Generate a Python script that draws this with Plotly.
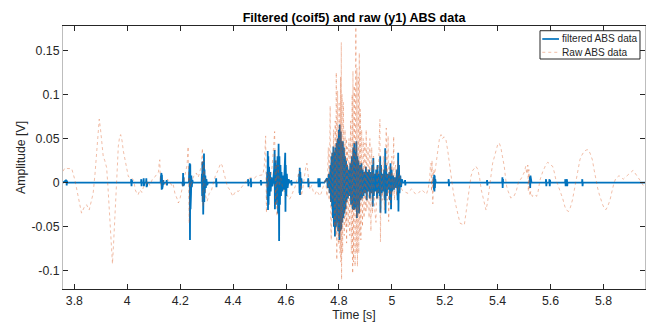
import plotly.graph_objects as go

# ---------------- data ----------------
raw_time = [
    3.757, 3.765, 3.775, 3.790, 3.802, 3.815, 3.827, 3.837, 3.846, 3.856, 3.863, 3.871, 3.878, 3.884,
    3.890, 3.894, 3.899, 3.905, 3.909, 3.915, 3.922, 3.927, 3.932, 3.938, 3.944, 3.948, 3.952, 3.957,
    3.962, 3.966, 3.971, 3.975, 3.980, 3.985, 3.991, 3.997, 4.004, 4.010, 4.018, 4.025, 4.030, 4.036,
    4.041, 4.048, 4.055, 4.062, 4.070, 4.078, 4.085, 4.095, 4.103, 4.110, 4.118, 4.121, 4.123, 4.125,
    4.128, 4.132, 4.138, 4.145, 4.152, 4.160, 4.168, 4.173, 4.180, 4.188, 4.193, 4.198, 4.205, 4.212,
    4.220, 4.226, 4.230, 4.232, 4.234, 4.236, 4.240, 4.246, 4.252, 4.261, 4.268, 4.274, 4.280, 4.284,
    4.286, 4.289, 4.292, 4.296, 4.302, 4.310, 4.318, 4.326, 4.333, 4.340, 4.347, 4.353, 4.358, 4.364,
    4.370, 4.378, 4.387, 4.394, 4.399, 4.405, 4.412, 4.420, 4.428, 4.436, 4.445, 4.455, 4.462, 4.470,
    4.480, 4.487, 4.495, 4.505, 4.513, 4.518, 4.521, 4.523, 4.525, 4.526, 4.529, 4.532, 4.536, 4.542,
    4.548, 4.553, 4.557, 4.559, 4.560, 4.563, 4.566, 4.570, 4.575, 4.580, 4.587, 4.594, 4.601, 4.607,
    4.613, 4.620, 4.627, 4.635, 4.642, 4.648, 4.651, 4.655, 4.658, 4.664, 4.670, 4.675, 4.679, 4.684,
    4.690, 4.697, 4.703, 4.710, 4.716, 4.722, 4.728, 4.733, 4.738, 4.744, 4.750, 4.755, 4.760, 4.763,
    4.767, 4.769, 4.771, 4.774, 4.777, 4.780, 4.783, 4.786, 4.788, 4.790, 4.792, 4.795, 4.798, 4.801,
    4.804, 4.806, 4.807, 4.809, 4.810, 4.812, 4.814, 4.817, 4.820, 4.823, 4.826, 4.828, 4.829, 4.832,
    4.835, 4.838, 4.841, 4.844, 4.847, 4.850, 4.852, 4.853, 4.855, 4.858, 4.861, 4.864, 4.866, 4.868,
    4.870, 4.873, 4.875, 4.877, 4.879, 4.881, 4.883, 4.886, 4.889, 4.892, 4.895, 4.898, 4.902, 4.903,
    4.906, 4.910, 4.914, 4.917, 4.921, 4.924, 4.927, 4.931, 4.935, 4.940, 4.944, 4.948, 4.952, 4.955,
    4.957, 4.960, 4.964, 4.968, 4.972, 4.976, 4.979, 4.982, 4.986, 4.988, 4.992, 4.996, 5.000, 5.004,
    5.007, 5.010, 5.014, 5.018, 5.022, 5.026, 5.030, 5.035, 5.038, 5.045, 5.055, 5.061, 5.068, 5.075,
    5.082, 5.090, 5.100, 5.112, 5.120, 5.131, 5.138, 5.143, 5.146, 5.148, 5.150, 5.152, 5.155, 5.158,
    5.162, 5.166, 5.173, 5.180, 5.186, 5.192, 5.197, 5.201, 5.205, 5.212, 5.218, 5.224, 5.233, 5.243,
    5.250, 5.258, 5.266, 5.274, 5.280, 5.287, 5.293, 5.299, 5.306, 5.312, 5.318, 5.325, 5.332, 5.338,
    5.343, 5.350, 5.356, 5.362, 5.369, 5.375, 5.381, 5.388, 5.394, 5.400, 5.406, 5.412, 5.418, 5.425,
    5.430, 5.434, 5.440, 5.445, 5.450, 5.456, 5.462, 5.470, 5.476, 5.481, 5.488, 5.495, 5.501, 5.506,
    5.510, 5.514, 5.516, 5.518, 5.520, 5.522, 5.525, 5.531, 5.537, 5.541, 5.547, 5.553, 5.560, 5.566,
    5.571, 5.577, 5.583, 5.589, 5.595, 5.601, 5.608, 5.614, 5.620, 5.627, 5.633, 5.639, 5.646, 5.654,
    5.660, 5.668, 5.675, 5.683, 5.689, 5.695, 5.700, 5.706, 5.711, 5.716, 5.722, 5.727, 5.735, 5.742,
    5.750, 5.758, 5.765, 5.771, 5.778, 5.784, 5.790, 5.797, 5.803, 5.809, 5.816, 5.825, 5.832, 5.840,
    5.847, 5.853, 5.859, 5.866, 5.875, 5.882, 5.889, 5.897, 5.905, 5.912, 5.919, 5.927, 5.934, 5.941,
    5.948, 5.953, 5.957,
]
raw_amp = [
    0.013, 0.017, 0.016, 0.016, 0.003, -0.018, -0.0345, -0.028, -0.025, -0.031, -0.022, -0.012, 0.010, 0.034,
    0.060, 0.072, 0.060, 0.040, 0.030, 0.025, 0.017, -0.005, -0.031, -0.060, -0.092, -0.070, -0.040, -0.012,
    0.015, 0.041, 0.052, 0.0545, 0.048, 0.036, 0.026, 0.015, 0.007, 0.006, 0.005, 0.002, -0.008, -0.012,
    -0.0136, -0.008, -0.011, -0.004, -0.002, 0.002, -0.003, 0.004, 0.006, 0.009, 0.012, 0.024, 0.026, 0.000,
    -0.003, -0.001, 0.003, -0.002, 0.004, 0.001, -0.003, -0.001, -0.012, -0.018, -0.023, -0.020, -0.010, 0.000,
    0.012, 0.020, 0.041, -0.010, -0.046, 0.005, -0.005, 0.003, 0.008, 0.011, 0.006, 0.012, 0.020, 0.039,
    -0.027, 0.025, 0.005, -0.015, -0.021, -0.012, -0.009, 0.000, 0.008, 0.012, 0.018, 0.022, 0.020, 0.012,
    0.005, -0.004, -0.008, -0.013, -0.0156, -0.012, -0.009, -0.010, -0.007, -0.004, 0.000, 0.004, 0.005, 0.006,
    0.005, 0.007, 0.008, 0.009, 0.009, 0.020, 0.040, 0.053, -0.010, -0.034, 0.010, -0.005, 0.012, 0.004,
    0.020, 0.040, 0.058, 0.010, -0.027, 0.025, -0.038, 0.020, -0.004, 0.005, -0.005, -0.010, -0.012, -0.016,
    -0.019, -0.015, -0.010, -0.004, 0.004, 0.010, 0.015, -0.005, -0.015, -0.005, 0.010, 0.018, 0.022, 0.010,
    -0.008, -0.003, -0.010, -0.013, -0.009, -0.012, -0.015, -0.012, -0.006, -0.002, 0.005, -0.0155, 0.040, -0.020,
    0.087, -0.040, -0.065, 0.035, -0.020, 0.060, -0.050, 0.070, -0.060, 0.125, -0.0875, 0.104, -0.070, 0.090,
    -0.080, 0.120, -0.090, 0.159, -0.110, 0.100, -0.080, 0.091, -0.060, 0.060, -0.050, 0.050, -0.0685, 0.040,
    -0.050, 0.050, -0.060, 0.070, -0.080, 0.100, -0.103, 0.1265, -0.090, 0.110, -0.095, 0.180, -0.080, 0.130,
    -0.095, 0.120, -0.080, 0.147, -0.060, 0.083, -0.065, 0.060, -0.050, 0.050, -0.040, 0.045, -0.034, 0.060,
    -0.030, 0.040, -0.040, 0.050, -0.055, 0.040, -0.035, 0.030, -0.030, -0.045, 0.020, -0.020, 0.045, 0.0716,
    -0.067, 0.020, -0.020, 0.030, -0.031, 0.040, 0.062, -0.020, 0.053, -0.044, 0.020, -0.025, 0.030, -0.015,
    0.0526, -0.020, 0.020, -0.015, 0.025, -0.010, 0.010, -0.005, -0.008, -0.010, -0.011, -0.012, -0.009, -0.007,
    -0.010, -0.013, -0.012, -0.008, -0.010, -0.013, -0.006, 0.005, 0.020, 0.022, -0.010, 0.025, -0.024, 0.015,
    0.010, 0.020, 0.034, 0.050, 0.0545, 0.050, 0.052, 0.050, 0.048, 0.035, 0.020, 0.0034, -0.012, -0.027,
    -0.038, -0.046, -0.047, -0.048, -0.035, -0.019, -0.005, 0.007, 0.014, 0.017, 0.0185, 0.015, 0.005, -0.008,
    -0.0155, -0.026, -0.031, -0.022, -0.008, 0.008, 0.022, 0.030, 0.0375, 0.043, 0.045, 0.040, 0.030, 0.0185,
    0.005, -0.004, -0.010, -0.015, -0.0175, -0.016, -0.015, -0.010, -0.003, 0.0034, 0.004, 0.008, 0.012, 0.0185,
    0.010, 0.020, -0.010, 0.015, -0.008, -0.015, -0.010, -0.0155, -0.014, -0.0136, -0.0155, -0.010, 0.003, 0.010,
    0.013, 0.0167, 0.021, 0.023, 0.022, 0.020, 0.0185, 0.012, 0.0034, -0.002, -0.007, -0.0117, -0.018, -0.027,
    -0.031, -0.0326, -0.028, -0.0193, -0.010, 0.000, 0.010, 0.020, 0.026, 0.030, 0.034, 0.0356, 0.037, 0.0375,
    0.033, 0.026, 0.014, 0.0034, -0.006, -0.013, -0.0193, -0.025, -0.029, -0.0307, -0.027, -0.0193, -0.010, 0.000,
    0.005, 0.007, 0.008, 0.006, 0.004, 0.006, 0.008, 0.010, 0.012, 0.014, 0.011, 0.008, 0.004, 0.0015,
    -0.002, -0.005, -0.006,
]

filt_time = [
    3.757, 3.770, 3.771, 3.772, 3.773, 4.014, 4.015, 4.016, 4.017, 4.018, 4.019,
    4.052, 4.053, 4.054, 4.055, 4.061, 4.062, 4.063, 4.064, 4.071, 4.072, 4.073, 4.074, 4.075, 4.076,
    4.126, 4.127, 4.128, 4.129, 4.130, 4.131, 4.132, 4.133, 4.134, 4.136, 4.137, 4.139,
    4.148, 4.149, 4.150, 4.151,
    4.208, 4.209, 4.210, 4.211, 4.212, 4.213, 4.214, 4.216,
    4.233, 4.234, 4.235, 4.236, 4.237, 4.238, 4.239, 4.240, 4.241, 4.242, 4.244, 4.246, 4.248,
    4.281, 4.282, 4.283, 4.284, 4.285, 4.286, 4.287, 4.288, 4.289, 4.290, 4.291, 4.292, 4.293,
    4.295, 4.297, 4.299, 4.302, 4.305,
    4.335, 4.336, 4.337, 4.338, 4.456, 4.457, 4.458, 4.459, 4.466, 4.467, 4.468, 4.469,
    4.504, 4.505, 4.506, 4.507,
    4.528, 4.529, 4.530, 4.531, 4.532, 4.533, 4.534, 4.536, 4.538, 4.540, 4.542, 4.545, 4.548, 4.551,
    4.555, 4.556, 4.557, 4.558, 4.560, 4.562, 4.564, 4.566, 4.568, 4.570, 4.572, 4.574, 4.575, 4.577,
    4.579, 4.581, 4.583, 4.586, 4.589, 4.592, 4.595, 4.597, 4.598, 4.599, 4.601, 4.603, 4.606, 4.610, 4.614,
    4.619, 4.620, 4.621, 4.622,
    4.649, 4.650, 4.651, 4.652, 4.653, 4.654, 4.656, 4.658, 4.660,
    4.683, 4.684, 4.685, 4.686, 4.721, 4.722, 4.723, 4.724, 4.726, 4.727, 4.728, 4.729,
    4.745, 4.755, 4.758, 4.762, 4.765, 4.768, 4.770, 4.772, 4.774, 4.775, 4.777, 4.779, 4.781, 4.783,
    4.785, 4.787, 4.789, 4.791, 4.793, 4.795, 4.797, 4.800, 4.802, 4.803, 4.805, 4.807, 4.809, 4.811,
    4.813, 4.815, 4.817, 4.819, 4.821, 4.823, 4.825, 4.827, 4.829, 4.831, 4.834, 4.837, 4.840, 4.843,
    4.846, 4.849, 4.852, 4.854, 4.856, 4.858, 4.860, 4.862, 4.864, 4.866, 4.868, 4.870, 4.872, 4.874,
    4.876, 4.879, 4.882, 4.885, 4.887, 4.890, 4.893, 4.896, 4.899, 4.902, 4.905, 4.908, 4.911, 4.914,
    4.917, 4.920, 4.923, 4.926, 4.928, 4.930, 4.932, 4.935, 4.938, 4.941, 4.944, 4.946, 4.948, 4.951,
    4.954, 4.956, 4.957, 4.959, 4.962, 4.965, 4.968, 4.971, 4.973, 4.975, 4.976, 4.978, 4.981, 4.984,
    4.987, 4.991, 4.993, 4.995, 4.997, 4.999, 5.002, 5.005, 5.008, 5.012, 5.016, 5.020, 5.022, 5.024,
    5.025, 5.027, 5.029, 5.032, 5.035, 5.038, 5.042,
    5.049, 5.050, 5.051, 5.052,
    5.157, 5.158, 5.159, 5.160, 5.161, 5.162, 5.163, 5.164, 5.166,
    5.214, 5.215, 5.216, 5.217, 5.359, 5.360, 5.361, 5.362,
    5.417, 5.418, 5.419, 5.420, 5.421,
    5.521, 5.522, 5.523, 5.524, 5.525, 5.526, 5.528,
    5.582, 5.583, 5.584, 5.585, 5.595, 5.596, 5.597, 5.598, 5.599,
    5.655, 5.656, 5.657, 5.658, 5.661, 5.662, 5.663, 5.664,
    5.719, 5.720, 5.721, 5.722, 5.957,
]
filt_amp = [
    0.0, 0.003, -0.003, 0.002, 0.0, 0.0, 0.004, -0.004, 0.003, -0.003, 0.0,
    0.0, 0.004, -0.004, 0.0, 0.0, 0.005, -0.004, 0.0, 0.0, 0.005, -0.005, 0.003, -0.003, 0.0,
    0.0, 0.006, -0.005, 0.011, -0.008, 0.009, -0.007, 0.005, -0.004, 0.003, -0.002, 0.0,
    0.0, 0.003, -0.003, 0.0,
    0.0, 0.008, -0.004, 0.011, -0.004, 0.006, -0.003, 0.0,
    0.0, 0.012, -0.020, 0.022, -0.065, 0.021, -0.030, 0.015, -0.012, 0.008, -0.005, 0.003, 0.0,
    0.0, 0.010, -0.015, 0.024, -0.022, 0.020, -0.036, 0.024, -0.020, 0.033, -0.022, 0.015, -0.012,
    0.008, -0.006, 0.004, -0.003, 0.0,
    0.0, 0.005, -0.005, 0.0, 0.0, 0.004, -0.004, 0.0, 0.0, 0.005, -0.005, 0.0,
    0.0, 0.003, -0.003, 0.0,
    0.0, 0.012, -0.020, 0.036, -0.031, 0.030, -0.025, 0.018, -0.015, 0.012, -0.010, 0.006, -0.004, 0.0,
    0.015, -0.020, 0.037, -0.030, 0.025, -0.025, 0.020, -0.020, 0.030, -0.035, 0.044, -0.066, 0.030, -0.025,
    0.020, -0.015, 0.012, -0.010, 0.008, -0.008, 0.015, 0.034, -0.033, 0.020, -0.015, 0.010, -0.006, 0.004, 0.0,
    0.0, 0.003, -0.003, 0.0,
    0.0, 0.010, -0.012, 0.017, -0.014, 0.012, -0.008, 0.005, 0.0,
    0.0, 0.005, -0.005, 0.0, 0.0, 0.005, -0.005, 0.0, 0.0, 0.005, -0.005, 0.0,
    0.0, 0.005, -0.006, 0.010, -0.012, 0.020, -0.022, 0.030, -0.027, 0.034, -0.040, 0.041, -0.050, 0.035,
    -0.061, 0.040, -0.050, 0.045, -0.045, 0.050, -0.055, 0.060, -0.065, 0.066, -0.055, 0.058, -0.053, 0.047,
    -0.045, 0.047, -0.040, 0.040, -0.035, 0.030, -0.030, 0.025, -0.022, 0.020, -0.018, 0.015, -0.015, 0.022,
    -0.025, 0.030, -0.030, 0.040, -0.031, 0.045, -0.030, 0.035, -0.028, 0.047, -0.040, 0.030, -0.025, 0.025,
    -0.035, 0.020, -0.020, 0.022, -0.018, 0.015, -0.015, 0.012, -0.012, 0.018, -0.020, 0.012, -0.010, 0.015,
    -0.018, 0.012, -0.012, 0.020, -0.027, 0.028, -0.015, 0.010, -0.010, 0.015, -0.018, 0.020, -0.012, 0.010,
    -0.015, 0.030, -0.034, 0.020, -0.012, 0.010, -0.010, 0.015, -0.020, 0.039, -0.035, 0.020, -0.015, 0.010,
    -0.008, 0.012, -0.020, 0.022, -0.030, 0.015, -0.010, 0.008, -0.008, 0.006, -0.006, 0.015, -0.020, 0.034,
    -0.0326, 0.020, -0.012, 0.008, -0.005, 0.004, 0.0,
    0.0, 0.003, -0.003, 0.0,
    0.0, 0.006, -0.008, 0.009, -0.010, 0.008, -0.006, 0.004, 0.0,
    0.0, 0.004, -0.004, 0.0, 0.0, 0.003, -0.003, 0.0,
    0.0, 0.006, -0.006, 0.004, 0.0,
    0.0, 0.007, -0.006, 0.008, -0.005, 0.004, 0.0,
    0.0, 0.004, -0.004, 0.0, 0.0, 0.004, -0.004, 0.003, 0.0,
    0.0, 0.004, -0.004, 0.0, 0.0, 0.004, -0.004, 0.0,
    0.0, 0.004, -0.004, 0.0, 0.0,
]

x_range = [3.757, 5.957]
y_range = [-0.1205, 0.1776]
x_tick_vals = [3.8, 4.0, 4.2, 4.4, 4.6, 4.8, 5.0, 5.2, 5.4, 5.6, 5.8]
x_tick_text = ["3.8", "4", "4.2", "4.4", "4.6", "4.8", "5", "5.2", "5.4", "5.6", "5.8"]
y_tick_vals = [-0.1, -0.05, 0.0, 0.05, 0.1, 0.15]
y_tick_text = ["-0.1", "-0.05", "0", "0.05", "0.1", "0.15"]
legend_names = ["filtered ABS data", "Raw ABS data"]

# ---------------- figure ----------------
FONT = "Liberation Sans, Arial, Helvetica, sans-serif"
INK = "#262626"
BLUE = "#0072BD"
ORANGE = "rgba(217,83,25,0.42)"

fig = go.Figure()
fig.add_trace(go.Scatter(
    x=filt_time, y=filt_amp, mode="lines", name=legend_names[0],
    line=dict(color=BLUE, width=1.8), showlegend=False,
))
fig.add_trace(go.Scatter(
    x=raw_time, y=raw_amp, mode="lines", name=legend_names[1],
    line=dict(color=ORANGE, width=0.9, dash="dot"), showlegend=False,
))

axis_common = dict(
    showgrid=False, zeroline=False, showline=True, mirror="allticks",
    ticks="inside", ticklen=5, tickwidth=1, tickcolor=INK, automargin=False,
    tickfont=dict(family=FONT, size=12.3, color=INK),
)
fig.update_xaxes(
    range=x_range, tickvals=x_tick_vals, ticktext=x_tick_text,
    linecolor=INK, linewidth=1,
    title=dict(text="Time [s]", font=dict(family=FONT, size=12.3, color=INK)),
    **axis_common,
)
fig.update_yaxes(
    range=y_range, tickvals=y_tick_vals, ticktext=y_tick_text,
    linecolor="#bdbdbd", linewidth=1,
    title=dict(text="Amplitude [V]", font=dict(family=FONT, size=12.3, color=INK), standoff=3),
    **axis_common,
)

# legend box drawn in paper coordinates (MATLAB-style compact legend)
lg_x0, lg_x1, lg_y0, lg_y1 = 0.8196, 0.9914, 0.8745, 0.982
row_y = [0.9506, 0.900]
shapes = [
    dict(type="rect", xref="paper", yref="paper", x0=lg_x0, x1=lg_x1, y0=lg_y0, y1=lg_y1,
         line=dict(color=INK, width=1), fillcolor="white", layer="above"),
    dict(type="line", xref="paper", yref="paper", x0=0.8235, x1=0.8522, y0=row_y[0], y1=row_y[0],
         line=dict(color=BLUE, width=1.7), layer="above"),
    dict(type="line", xref="paper", yref="paper", x0=0.8235, x1=0.8522, y0=row_y[1], y1=row_y[1],
         line=dict(color=ORANGE, width=0.9, dash="dot"), layer="above"),
]
annotations = [
    dict(xref="paper", yref="paper", x=0.8545, y=row_y[i], text=legend_names[i],
         xanchor="left", yanchor="middle", showarrow=False,
         font=dict(family=FONT, size=10.1, color=INK))
    for i in range(2)
]

fig.update_layout(
    width=654, height=322,
    margin=dict(l=63, r=9, t=26, b=33),
    paper_bgcolor="white", plot_bgcolor="white",
    font=dict(family=FONT, size=12.3, color=INK),
    title=dict(
        text="<b>Filtered (coif5) and raw (y1) ABS data</b>",
        x=0.5413, xanchor="center", y=0.945, yanchor="middle",
        font=dict(family=FONT, size=12.6, color="black"),
    ),
    showlegend=False,
    shapes=shapes,
    annotations=annotations,
)

fig.write_html("out.html")
